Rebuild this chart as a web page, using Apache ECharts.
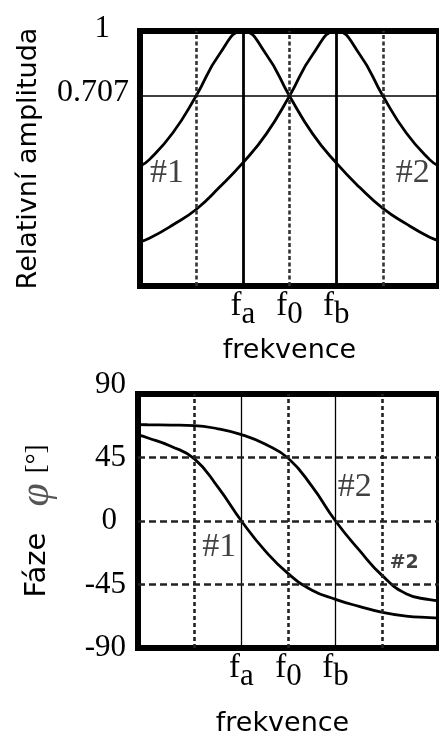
<!DOCTYPE html>
<html>
<head>
<meta charset="utf-8">
<script src="https://cdn.jsdelivr.net/npm/echarts@6/dist/echarts.min.js"></script>
<style>
  html, body { margin: 0; padding: 0; background: #fff; }
  #chart { width: 439px; height: 738px; }
</style>
</head>
<body>
<div id="chart"></div>
<script>
// Frequency axis in grid units: f_a = 2, f_0 = 3, f_b = 4
const freq = [-0.2, 0, 0.5, 1, 1.5, 2, 2.5, 3, 3.5, 4, 4.5, 5, 5.5, 6, 6.2];
// Relative amplitude of circuit #1 (resonant at f_a) and #2 (resonant at f_b)
const amp1 = [0.39, 0.42, 0.54, 0.707, 0.895, 1.0, 0.895, 0.707, 0.535, 0.405, 0.295, 0.20, 0.13, 0.07, 0.055];
const amp2 = [0.05, 0.065, 0.125, 0.195, 0.295, 0.405, 0.535, 0.707, 0.895, 1.0, 0.895, 0.707, 0.54, 0.42, 0.39];

// Phase in degrees
const phaseFreq = [-0.2, 0, 0.5, 1, 1.5, 2, 2.5, 3, 3.5, 4, 4.5, 5, 5.5, 6, 6.2];
const phase1 = [61, 59, 53, 44, 24, 0, -21, -37.5, -49, -55.5, -60.5, -64.8, -67.4, -68.5, -68.8];
const phase2 = [68.3, 68.2, 68, 67.6, 65.3, 61.2, 54.5, 44.3, 24.5, 0, -20.5, -38.9, -51.5, -55.8, -56.5];

// Tick labels
const ampTicks = [0.707, 1];
const phaseTicks = [-90, -45, 0, 45, 90];
const markFreqs = [2, 3, 4];
const markSubs = ['a', '0', 'b'];

// Guide lines
const dashedFreqs = [1, 3, 5];
const solidFreqs = [2, 4];
const halfPowerLevel = [0.707];
const phaseGuides = [-45, 0, 45];

// Curve tags
const ampNotes = [['#1', 0.38, 0.36], ['#2', 5.64, 0.36]];
const phaseNotes = [['#2', 4.41, 24.2], ['#1', 1.53, -18.4]];
const phaseSmallNotes = [['#2', 5.46, -29.7]];

const SERIF = '"Liberation Serif", "Times New Roman", serif';
const SANS = '"DejaVu Sans", "Liberation Sans", sans-serif';
const pair = (xs, ys) => xs.map((x, i) => [x, ys[i]]);

const freqLabel = {
  customValues: markFreqs,
  margin: 4,
  formatter: v => '{f|f}{s|' + markSubs[markFreqs.indexOf(v)] + '}',
  rich: {
    f: { fontFamily: SERIF, fontSize: 33, lineHeight: 30, verticalAlign: 'top', color: '#000' },
    s: { fontFamily: SERIF, fontSize: 31, lineHeight: 30, verticalAlign: 'top', color: '#000', padding: [9, 0, 0, 0] }
  }
};

const hidden = { show: false };
const noLine = { show: false, onZero: false };

const chart = echarts.init(document.getElementById('chart'), null, { renderer: 'canvas' });

chart.setOption({
  animation: false,
  backgroundColor: '#fff',
  grid: [
    { left: 140, top: 31, width: 305, height: 255, show: true, borderColor: '#000', borderWidth: 6, backgroundColor: 'transparent' },
    { left: 138, top: 394, width: 307, height: 254, show: true, borderColor: '#000', borderWidth: 6, backgroundColor: 'transparent' }
  ],
  xAxis: [
    {
      type: 'value', gridIndex: 0, min: -0.2, max: 6.2,
      axisLine: noLine, axisTick: hidden, splitLine: hidden,
      axisLabel: freqLabel,
      name: 'frekvence', nameLocation: 'middle', nameGap: 51,
      nameTextStyle: { fontFamily: SANS, fontSize: 27, color: '#000' }
    },
    {
      type: 'value', gridIndex: 1, min: -0.2, max: 6.2,
      axisLine: noLine, axisTick: hidden, splitLine: hidden,
      axisLabel: freqLabel,
      name: 'frekvence', nameLocation: 'middle', nameGap: 62,
      nameTextStyle: { fontFamily: SANS, fontSize: 27, color: '#000', padding: [0, 12, 0, 0] }
    }
  ],
  yAxis: [
    {
      type: 'value', gridIndex: 0, min: -0.15, max: 1,
      axisLine: noLine, axisTick: hidden, splitLine: hidden,
      axisLabel: {
        customValues: ampTicks,
        margin: 11,
        formatter: v => (v === 1 ? '{one|1}' : '{n|' + v + '}'),
        rich: {
          n: { fontFamily: SERIF, fontSize: 32, color: '#000', padding: [0, 0, 6, 0] },
          one: { fontFamily: SERIF, fontSize: 31, color: '#000', padding: [0, 19, 4, 0] }
        }
      },
      name: 'Relativní amplituda', nameLocation: 'middle', nameRotate: 90, nameGap: 98,
      nameTextStyle: { fontFamily: SANS, fontSize: 27, color: '#000' }
    },
    {
      type: 'value', gridIndex: 1, min: -90, max: 90,
      axisLine: noLine, axisTick: hidden, splitLine: hidden,
      axisLabel: {
        customValues: phaseTicks,
        margin: 12,
        formatter: v => (v === 90 ? '{top|90}' : v === 0 ? '{zero|0}' : '{n|' + v + '}'),
        rich: {
          n: { fontFamily: SERIF, fontSize: 31, color: '#000' },
          zero: { fontFamily: SERIF, fontSize: 31, color: '#000', padding: [0, 9, 0, 0] },
          top: { fontFamily: SERIF, fontSize: 31, color: '#000', padding: [0, 0, 18, 0] }
        }
      },
      name: '{s|Fáze}{p|φ}{b|[°]}', nameLocation: 'middle', nameRotate: 90, nameGap: 80,
      nameTextStyle: {
        rich: {
          s: { fontFamily: SANS, fontSize: 29, color: '#000', padding: [0, 26, 0, 0] },
          p: { fontFamily: SERIF, fontStyle: 'italic', fontSize: 42, color: '#555', padding: [0, 10, 0, 0] },
          b: { fontFamily: SERIF, fontSize: 27, color: '#000' }
        }
      }
    }
  ],
  series: [
    {
      name: 'A1', type: 'line', xAxisIndex: 0, yAxisIndex: 0,
      data: pair(freq, amp1), smooth: 0.5, showSymbol: false,
      lineStyle: { color: '#000', width: 2.8 },
      markLine: {
        silent: true, symbol: ['none', 'none'], label: hidden, animation: false,
        data: [
          ...dashedFreqs.map(x => ({ xAxis: x, lineStyle: { type: [4, 2.5], width: 2.6, color: '#333' } })),
          ...solidFreqs.map(x => ({ xAxis: x, lineStyle: { type: 'solid', width: 2.8, color: '#000' } })),
          ...halfPowerLevel.map(y => ({ yAxis: y, lineStyle: { type: 'solid', width: 1.5, color: '#000' } }))
        ]
      }
    },
    {
      name: 'A2', type: 'line', xAxisIndex: 0, yAxisIndex: 0,
      data: pair(freq, amp2), smooth: 0.5, showSymbol: false,
      lineStyle: { color: '#000', width: 2.8 }
    },
    {
      name: 'AN', type: 'scatter', xAxisIndex: 0, yAxisIndex: 0,
      data: ampNotes.map(n => ({ value: [n[1], n[2]], name: n[0] })),
      symbolSize: 1, itemStyle: { color: 'rgba(0,0,0,0)' },
      label: { show: true, position: 'inside', formatter: p => p.name, fontFamily: SERIF, fontSize: 34, color: '#111' }
    },
    {
      name: 'P1', type: 'line', xAxisIndex: 1, yAxisIndex: 1,
      data: pair(phaseFreq, phase1), smooth: 0.5, showSymbol: false,
      lineStyle: { color: '#000', width: 2.8 },
      markLine: {
        silent: true, symbol: ['none', 'none'], label: hidden, animation: false,
        data: [
          ...dashedFreqs.map(x => ({ xAxis: x, lineStyle: { type: [4, 3], width: 2.6, color: '#222' } })),
          ...solidFreqs.map(x => ({ xAxis: x, lineStyle: { type: 'solid', width: 1.3, color: '#000' } })),
          ...phaseGuides.map(y => ({ yAxis: y, lineStyle: { type: [7, 4], width: 2.6, color: '#222' } }))
        ]
      }
    },
    {
      name: 'P2', type: 'line', xAxisIndex: 1, yAxisIndex: 1,
      data: pair(phaseFreq, phase2), smooth: 0.5, showSymbol: false,
      lineStyle: { color: '#000', width: 2.8 }
    },
    {
      name: 'PN', type: 'scatter', xAxisIndex: 1, yAxisIndex: 1,
      data: phaseNotes.map(n => ({ value: [n[1], n[2]], name: n[0] })),
      symbolSize: 1, itemStyle: { color: 'rgba(0,0,0,0)' },
      label: { show: true, position: 'inside', formatter: p => p.name, fontFamily: SERIF, fontSize: 34, color: '#111' }
    },
    {
      name: 'PS', type: 'scatter', xAxisIndex: 1, yAxisIndex: 1,
      data: phaseSmallNotes.map(n => ({ value: [n[1], n[2]], name: n[0] })),
      symbolSize: 1, itemStyle: { color: 'rgba(0,0,0,0)' },
      label: { show: true, position: 'inside', formatter: p => p.name, fontFamily: SANS, fontWeight: 'bold', fontSize: 19, color: '#111' }
    }
  ]
});
</script>
</body>
</html>
